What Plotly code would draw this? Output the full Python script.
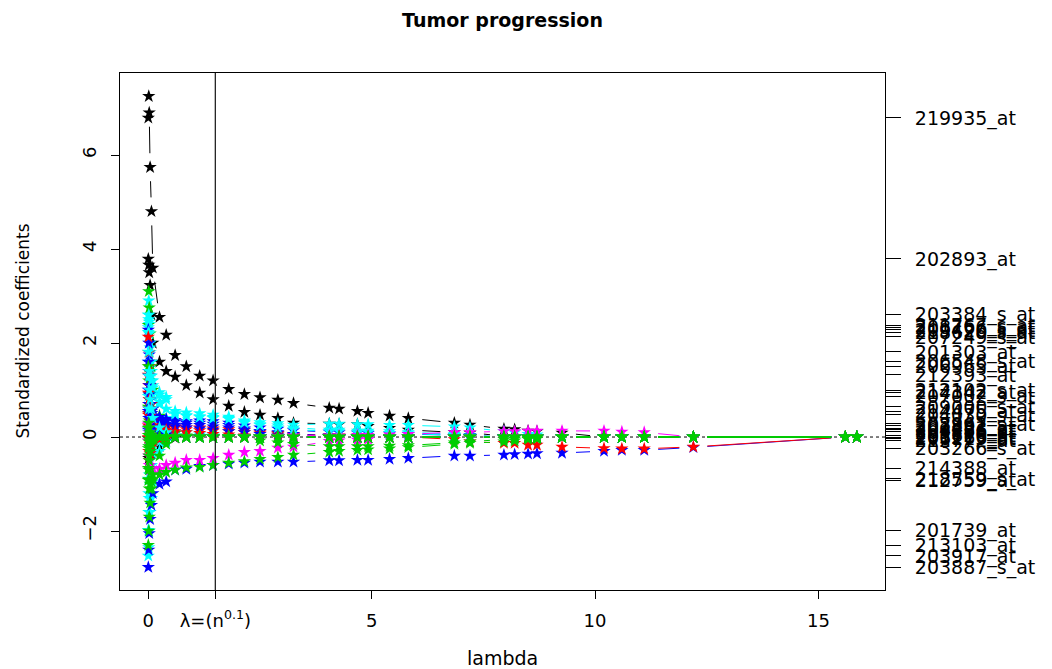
import math
import plotly.graph_objects as go

# ---------------- data ----------------
LAMBDA = [0.0, 0.01, 0.02, 0.04, 0.07, 0.1,
          0.25, 0.4, 0.6, 0.85, 1.15, 1.45,
          1.8, 2.15, 2.5, 2.9, 3.25, 4.05,
          4.27, 4.68, 4.92, 5.4, 5.82, 6.85,
          7.2, 7.96, 8.2, 8.5, 8.7, 9.26,
          10.2, 10.6, 11.1, 12.2, 15.6, 15.86]

X_TICKS = [0, 1.5, 5, 10, 15]
X_TICK_TEXT = ["0", "λ=(n<sup>0.1</sup>)", "5", "10", "15"]
Y_TICKS = [-2, 0, 2, 4, 6]
LAMBDA_MARK = 1.5

s_219935_at = [6.79, 7.25, 6.90, 5.74, 4.80, 3.60,
               2.55, 2.17, 1.74, 1.50, 1.30, 1.20,
               1.02, 0.91, 0.84, 0.79, 0.72, 0.62,
               0.60, 0.55, 0.51, 0.45, 0.40, 0.30,
               0.26, 0.17, 0.16, 0.13, 0.12, 0.09,
               0.00, 0.00, 0.00, 0.00, 0.00, 0.00]
s_202893_at = [3.79, 3.66, 3.50, 3.23, 2.60, 2.00,
               1.60, 1.40, 1.28, 1.10, 0.94, 0.80,
               0.66, 0.53, 0.47, 0.40, 0.30, 0.28,
               0.27, 0.27, 0.23, 0.19, 0.15, 0.10,
               0.09, 0.02, 0.00, 0.00, 0.00, 0.00,
               0.00, 0.00, 0.00, 0.00, 0.00, 0.00]
s_203384_s_at = [2.60, 2.90, 2.40, 1.90, 1.40, 1.10,
                 0.95, 0.85, 0.55, 0.52, 0.50, 0.47,
                 0.43, 0.35, 0.31, 0.29, 0.26, 0.28,
                 0.28, 0.27, 0.27, 0.25, 0.25, 0.22,
                 0.20, 0.12, 0.10, 0.06, 0.05, 0.02,
                 0.00, 0.00, 0.00, 0.00, 0.00, 0.00]
s_211767_s_at = [2.38, 3.10, 2.75, 2.20, 1.50, 1.00,
                 0.45, 0.20, 0.08, 0.03, 0.00, 0.00,
                 0.00, 0.00, 0.00, 0.00, 0.00, 0.00,
                 0.00, 0.00, 0.00, 0.00, 0.00, 0.00,
                 0.00, 0.00, 0.00, 0.00, 0.00, 0.00,
                 0.00, 0.00, 0.00, 0.00, 0.00, 0.00]
s_208766_s_at = [2.33, 2.60, 2.45, 2.00, 1.60, 1.20,
                 0.70, 0.40, 0.20, 0.10, 0.05, 0.03,
                 0.02, 0.00, 0.00, 0.00, 0.00, 0.00,
                 0.00, 0.00, 0.00, 0.00, 0.00, 0.00,
                 0.00, 0.00, 0.00, 0.00, 0.00, 0.00,
                 0.00, 0.00, 0.00, 0.00, 0.00, 0.00]
s_209426_s_at = [2.28, 2.00, 1.75, 1.30, 0.90, 0.60,
                 0.42, 0.38, 0.36, 0.33, 0.30, 0.28,
                 0.25, 0.18, 0.12, 0.07, 0.03, 0.00,
                 0.00, 0.00, 0.00, 0.00, 0.00, 0.00,
                 0.00, 0.00, 0.00, 0.00, 0.00, 0.00,
                 0.00, 0.00, 0.00, 0.00, 0.00, 0.00]
s_218620_s_at = [2.23, 2.50, 2.20, 1.80, 1.30, 0.90,
                 0.75, 0.60, 0.48, 0.46, 0.44, 0.42,
                 0.40, 0.32, 0.27, 0.24, 0.20, 0.15,
                 0.15, 0.13, 0.13, 0.12, 0.10, 0.06,
                 0.04, 0.00, 0.00, 0.00, 0.00, 0.00,
                 0.00, 0.00, 0.00, 0.00, 0.00, 0.00]
s_207249_s_at = [2.13, 1.80, 1.50, 1.10, 0.70, 0.40,
                 0.30, 0.25, 0.22, 0.20, 0.20, 0.18,
                 0.16, 0.14, 0.10, 0.08, 0.06, 0.04,
                 0.03, 0.02, 0.01, 0.00, 0.00, 0.00,
                 0.00, 0.00, 0.00, 0.00, 0.00, 0.00,
                 0.00, 0.00, 0.00, 0.00, 0.00, 0.00]
s_201303_at = [1.81, 1.60, 1.30, 0.90, 0.50, 0.30,
               0.15, 0.08, 0.04, 0.00, 0.00, 0.00,
               0.00, 0.00, 0.00, 0.00, 0.00, 0.00,
               0.00, 0.00, 0.00, 0.00, 0.00, 0.00,
               0.00, 0.00, 0.00, 0.00, 0.00, 0.00,
               0.00, 0.00, 0.00, 0.00, 0.00, 0.00]
s_206548_s_at = [1.60, 1.40, 1.10, 0.80, 0.50, 0.45,
                 0.38, 0.35, 0.32, 0.30, 0.35, 0.33,
                 0.30, 0.24, 0.20, 0.17, 0.14, 0.11,
                 0.10, 0.09, 0.08, 0.07, 0.06, 0.04,
                 0.03, 0.00, 0.00, 0.00, 0.00, 0.00,
                 0.00, 0.00, 0.00, 0.00, 0.00, 0.00]
s_206965_at = [1.50, 1.20, 0.90, 0.50, 0.20, 0.05,
               0.00, 0.00, 0.00, 0.00, 0.00, 0.00,
               0.00, 0.00, 0.00, 0.00, 0.00, 0.00,
               0.00, 0.00, 0.00, 0.00, 0.00, 0.00,
               0.00, 0.00, 0.00, 0.00, 0.00, 0.00,
               0.00, 0.00, 0.00, 0.00, 0.00, 0.00]
s_212393_at = [1.32, 1.10, 0.80, 0.50, 0.30, 0.15,
               0.05, 0.00, 0.00, 0.00, 0.00, 0.00,
               0.00, 0.00, 0.00, 0.00, 0.00, 0.00,
               0.00, 0.00, 0.00, 0.00, 0.00, 0.00,
               0.00, 0.00, 0.00, 0.00, 0.00, 0.00,
               0.00, 0.00, 0.00, 0.00, 0.00, 0.00]
s_212102_s_at = [1.00, 1.30, 1.10, 0.80, 0.55, 0.45,
                 0.30, 0.28, 0.26, 0.25, 0.25, 0.22,
                 0.20, 0.15, 0.12, 0.10, 0.06, 0.03,
                 0.02, 0.00, 0.00, 0.00, 0.00, 0.00,
                 0.00, 0.00, 0.00, 0.00, 0.00, 0.00,
                 0.00, 0.00, 0.00, 0.00, 0.00, 0.00]
s_214342_at = [0.94, 0.70, 0.55, 0.45, 0.35, 0.30,
               0.25, 0.22, 0.20, 0.16, 0.14, 0.13,
               0.12, 0.10, 0.07, 0.05, 0.03, 0.01,
               0.00, 0.00, 0.00, 0.00, 0.00, 0.00,
               0.00, 0.00, 0.00, 0.00, 0.00, 0.00,
               0.00, 0.00, 0.00, 0.00, 0.00, 0.00]
s_207002_s_at = [0.87, 1.30, 1.40, 1.30, 1.20, 1.05,
                 0.90, 0.80, 0.50, 0.45, 0.42, 0.40,
                 0.38, 0.30, 0.25, 0.20, 0.16, 0.12,
                 0.12, 0.10, 0.10, 0.08, 0.07, 0.04,
                 0.02, 0.00, 0.00, 0.00, 0.00, 0.00,
                 0.00, 0.00, 0.00, 0.00, 0.00, 0.00]
s_209000_s_at = [0.64, 0.50, 0.35, 0.20, 0.10, 0.05,
                 0.02, 0.00, 0.00, 0.00, 0.00, 0.00,
                 0.00, 0.00, 0.00, 0.00, 0.00, 0.00,
                 0.00, 0.00, 0.00, 0.00, 0.00, 0.00,
                 0.00, 0.00, 0.00, 0.00, 0.00, 0.00,
                 0.00, 0.00, 0.00, 0.00, 0.00, 0.00]
s_214475_at = [0.55, 0.70, 0.90, 0.70, 0.50, 0.38,
               0.30, 0.26, 0.22, 0.20, 0.18, 0.15,
               0.12, 0.10, 0.06, 0.03, 0.00, 0.00,
               0.00, 0.00, 0.00, 0.00, 0.00, 0.00,
               0.00, 0.00, 0.00, 0.00, 0.00, 0.00,
               0.00, 0.00, 0.00, 0.00, 0.00, 0.00]
s_204030_s_at = [0.47, 0.60, 0.50, 0.40, 0.35, 0.25,
                 0.18, 0.15, 0.12, 0.10, 0.08, 0.06,
                 0.05, 0.03, 0.00, 0.00, 0.00, 0.00,
                 0.00, 0.00, 0.00, 0.00, 0.00, 0.00,
                 0.00, 0.00, 0.00, 0.00, 0.00, 0.00,
                 0.00, 0.00, 0.00, 0.00, 0.00, 0.00]
s_208962_s_at = [0.28, 0.20, 0.10, 0.05, 0.02, 0.00,
                 0.00, 0.00, 0.00, 0.00, 0.00, 0.00,
                 0.00, 0.00, 0.00, 0.02, 0.03, 0.03,
                 0.03, 0.04, 0.04, 0.05, 0.06, 0.10,
                 0.10, 0.12, 0.12, 0.13, 0.13, 0.13,
                 0.13, 0.11, 0.10, 0.00, 0.00, 0.00]
s_202891_at = [0.24, 0.50, 0.80, 0.60, 0.40, 0.20,
               0.10, 0.05, 0.00, 0.00, 0.00, 0.00,
               0.00, 0.00, 0.00, 0.00, 0.00, 0.00,
               0.00, 0.00, 0.00, 0.00, 0.00, 0.00,
               0.00, 0.00, 0.00, 0.00, 0.00, 0.00,
               0.00, 0.00, 0.00, 0.00, 0.00, 0.00]
s_201453_at = [0.19, 0.30, 0.20, 0.10, 0.05, 0.00,
               0.00, 0.00, 0.00, 0.00, 0.00, 0.00,
               0.00, 0.00, 0.00, 0.00, 0.00, 0.00,
               0.00, 0.00, 0.00, 0.00, 0.00, 0.00,
               0.00, 0.00, 0.00, 0.00, 0.00, 0.00,
               0.00, 0.00, 0.00, 0.00, 0.00, 0.00]
s_204586_at = [0.15, 0.40, 0.60, 0.50, 0.35, 0.20,
               0.10, 0.05, 0.00, 0.00, 0.00, 0.00,
               0.00, 0.00, 0.00, 0.00, 0.00, 0.00,
               0.00, 0.00, 0.00, 0.00, 0.00, 0.00,
               0.00, 0.00, 0.00, 0.00, 0.00, 0.00,
               0.00, 0.00, 0.00, 0.00, 0.00, 0.00]
s_209296_at = [0.11, 0.60, 1.00, 0.80, 0.60, 0.40,
               0.20, 0.10, 0.00, 0.00, 0.00, 0.00,
               0.00, 0.00, 0.00, 0.00, 0.00, 0.00,
               0.00, 0.00, 0.00, 0.00, 0.00, 0.00,
               0.00, 0.00, 0.00, 0.00, 0.00, 0.00,
               0.00, 0.00, 0.00, 0.00, 0.00, 0.00]
s_201626_at = [0.04, -0.20, -0.40, -0.30, -0.15, -0.05,
               0.00, 0.00, 0.00, 0.00, 0.00, 0.00,
               0.00, 0.00, 0.00, 0.00, 0.00, 0.00,
               0.00, 0.00, 0.00, 0.00, 0.00, 0.00,
               0.00, 0.00, 0.00, 0.00, 0.00, 0.00,
               0.00, 0.00, 0.00, 0.00, 0.00, 0.00]
s_205266_at = [-0.01, -0.30, -0.50, -0.35, -0.20, -0.10,
               -0.05, -0.03, 0.00, 0.00, 0.00, 0.00,
               0.00, 0.00, 0.00, 0.00, 0.00, 0.00,
               0.00, 0.00, 0.00, 0.00, 0.00, -0.05,
               -0.10, -0.13, -0.13, -0.17, -0.17, -0.21,
               -0.24, -0.25, -0.25, -0.21, 0.00, 0.00]
s_206115_at = [-0.03, -0.45, -0.40, -0.30, -0.35, -0.30,
               -0.20, -0.08, -0.02, 0.00, 0.00, 0.00,
               0.00, 0.00, 0.00, 0.00, 0.00, 0.00,
               0.00, 0.00, 0.00, 0.00, 0.00, 0.00,
               0.00, 0.00, 0.00, 0.00, 0.00, 0.00,
               0.00, 0.00, 0.00, 0.00, 0.00, 0.00]
s_212772_at = [-0.08, -0.40, -0.60, -0.70, -0.68, -0.66,
               -0.68, -0.60, -0.55, -0.49, -0.49, -0.45,
               -0.38, -0.32, -0.30, -0.23, -0.21, -0.09,
               -0.08, -0.06, -0.05, 0.00, 0.00, 0.00,
               0.00, 0.00, 0.00, 0.00, 0.00, 0.00,
               0.00, 0.00, 0.00, 0.00, 0.00, 0.00]
s_203266_s_at = [-0.24, -0.10, -0.05, 0.00, 0.00, 0.00,
                 0.00, 0.00, 0.00, 0.00, 0.00, 0.00,
                 0.00, 0.00, -0.08, -0.12, -0.15, -0.20,
                 -0.20, -0.20, -0.20, -0.19, -0.18, -0.12,
                 -0.10, -0.05, -0.04, -0.02, -0.01, 0.00,
                 0.00, 0.00, 0.00, 0.00, 0.00, 0.00]
s_214388_at = [-0.66, -0.90, -1.10, -1.00, -0.95, -0.90,
               -0.80, -0.75, -0.70, -0.65, -0.64, -0.60,
               -0.55, -0.52, -0.47, -0.43, -0.38, -0.32,
               -0.30, -0.28, -0.27, -0.25, -0.22, -0.15,
               -0.13, -0.10, -0.08, -0.05, -0.04, 0.00,
               0.00, 0.00, 0.00, 0.00, 0.00, 0.00]
s_218559_s_at = [-0.89, -1.20, -0.80, -0.50, -0.30, -0.15,
                 -0.05, 0.00, 0.00, 0.00, 0.00, 0.00,
                 0.00, 0.00, 0.00, 0.00, 0.00, 0.00,
                 0.00, 0.00, 0.00, 0.00, 0.00, 0.00,
                 0.00, 0.00, 0.00, 0.00, 0.00, 0.00,
                 0.00, 0.00, 0.00, 0.00, 0.00, 0.00]
s_212759_at = [-0.92, -0.70, -0.50, -0.30, -0.15, -0.05,
               0.00, 0.00, 0.00, 0.00, 0.00, 0.00,
               0.00, 0.00, 0.00, 0.00, 0.00, 0.00,
               0.00, 0.00, 0.00, 0.00, 0.00, 0.00,
               0.00, 0.00, 0.00, 0.00, 0.00, 0.00,
               0.00, 0.00, 0.00, 0.00, 0.00, 0.00]
s_201739_at = [-1.98, -1.60, -1.30, -0.90, -0.60, -0.35,
               -0.10, 0.00, 0.00, 0.00, 0.00, 0.00,
               0.00, 0.00, 0.00, 0.00, 0.00, 0.00,
               0.00, 0.00, 0.00, 0.00, 0.00, 0.00,
               0.00, 0.00, 0.00, 0.00, 0.00, 0.00,
               0.00, 0.00, 0.00, 0.00, 0.00, 0.00]
s_213103_at = [-2.30, -2.00, -1.70, -1.40, -1.10, -0.80,
               -0.40, -0.15, 0.00, 0.00, 0.00, 0.00,
               0.00, 0.00, 0.00, 0.00, 0.00, 0.00,
               0.00, 0.00, 0.00, 0.00, 0.00, 0.00,
               0.00, 0.00, 0.00, 0.00, 0.00, 0.00,
               0.00, 0.00, 0.00, 0.00, 0.00, 0.00]
s_203917_at = [-2.53, -2.35, -2.00, -1.60, -1.30, -0.95,
               -0.30, -0.10, 0.00, 0.00, 0.00, 0.00,
               0.00, 0.00, 0.00, 0.00, 0.00, 0.00,
               0.00, 0.00, 0.00, 0.00, 0.00, 0.00,
               0.00, 0.00, 0.00, 0.00, 0.00, 0.00,
               0.00, 0.00, 0.00, 0.00, 0.00, 0.00]
s_203887_s_at = [-2.77, -2.40, -2.05, -1.75, -1.45, -1.20,
                 -1.00, -0.95, -0.70, -0.68, -0.62, -0.60,
                 -0.57, -0.55, -0.53, -0.53, -0.53, -0.50,
                 -0.50, -0.49, -0.49, -0.47, -0.45, -0.40,
                 -0.40, -0.38, -0.37, -0.36, -0.35, -0.34,
                 -0.30, -0.28, -0.28, -0.22, 0.00, 0.00]

BLACK, RED, GREEN, BLUE, CYAN, MAGENTA = "#000000", "#FF0000", "#00CD00", "#0000FF", "#00FFFF", "#FF00FF"

# drawing order (name, colour, values)
SERIES = [
    ("219935_at", BLACK, s_219935_at),
    ("202893_at", BLACK, s_202893_at),
    ("203384_s_at", CYAN, s_203384_s_at),
    ("211767_s_at", GREEN, s_211767_s_at),
    ("208766_s_at", CYAN, s_208766_s_at),
    ("209426_s_at", BLUE, s_209426_s_at),
    ("218620_s_at", CYAN, s_218620_s_at),
    ("207249_s_at", RED, s_207249_s_at),
    ("201303_at", CYAN, s_201303_at),
    ("206548_s_at", BLUE, s_206548_s_at),
    ("206965_at", GREEN, s_206965_at),
    ("212393_at", RED, s_212393_at),
    ("212102_s_at", BLUE, s_212102_s_at),
    ("214342_at", RED, s_214342_at),
    ("207002_s_at", CYAN, s_207002_s_at),
    ("209000_s_at", GREEN, s_209000_s_at),
    ("214475_at", BLUE, s_214475_at),
    ("204030_s_at", RED, s_204030_s_at),
    ("202891_at", RED, s_202891_at),
    ("204586_at", BLUE, s_204586_at),
    ("209296_at", CYAN, s_209296_at),
    ("206115_at", BLACK, s_206115_at),
    ("218559_s_at", CYAN, s_218559_s_at),
    ("201739_at", CYAN, s_201739_at),
    ("203917_at", CYAN, s_203917_at),
    ("203887_s_at", BLUE, s_203887_s_at),
    ("205266_at", RED, s_205266_at),
    ("208962_s_at", MAGENTA, s_208962_s_at),
    ("212772_at", MAGENTA, s_212772_at),
    ("201626_at", GREEN, s_201626_at),
    ("212759_at", GREEN, s_212759_at),
    ("213103_at", GREEN, s_213103_at),
    ("201453_at", GREEN, s_201453_at),
    ("203266_s_at", GREEN, s_203266_s_at),
    ("214388_at", GREEN, s_214388_at),
]

# ---------------- layout geometry ----------------
W, H = 1052, 669
ML, MR, MT, MB = 120, 167, 73, 79
PW, PH = W - ML - MR, H - MT - MB
X_RANGE = [-0.634, 16.49]
Y_RANGE = [-3.255, 7.745]
PX_X = PW / (X_RANGE[1] - X_RANGE[0])
PX_Y = PH / (Y_RANGE[1] - Y_RANGE[0])
GAP = 14.0  # R type="b": lines stop short of the points


def gapped(xs, ys):
    gx, gy = [], []
    for i in range(len(xs) - 1):
        dx, dy = xs[i + 1] - xs[i], ys[i + 1] - ys[i]
        d = math.hypot(dx * PX_X, dy * PX_Y)
        if d <= 2 * GAP + 1:
            continue
        t = GAP / d
        gx += [xs[i] + t * dx, xs[i + 1] - t * dx, None]
        gy += [ys[i] + t * dy, ys[i + 1] - t * dy, None]
    return gx, gy


FONT = "DejaVu Sans, Liberation Sans, Arial, sans-serif"

fig = go.Figure()
for name, col, vals in SERIES:
    lx, ly = gapped(LAMBDA, vals)
    fig.add_trace(go.Scatter(x=lx, y=ly, mode="lines", line=dict(color=col, width=1),
                             hoverinfo="skip", showlegend=False))
    fig.add_trace(go.Scatter(x=LAMBDA, y=vals, mode="markers", name=name,
                             marker=dict(symbol="star", size=10, color=col, line=dict(width=0)),
                             showlegend=False))

# right-axis labels at the final (smallest lambda) coefficient values
right_vals = [vals[0] for _, _, vals in SERIES]
right_text = [name for name, _, _ in SERIES]
fig.add_trace(go.Scatter(x=[None], y=[None], yaxis="y2", showlegend=False, hoverinfo="skip"))

fig.add_shape(type="line", xref="paper", yref="y", x0=0, x1=1, y0=0, y1=0,
              line=dict(color="black", width=1, dash="dot"), layer="below")
fig.add_shape(type="line", xref="x", yref="paper", x0=LAMBDA_MARK, x1=LAMBDA_MARK, y0=0, y1=1,
              line=dict(color="#222222", width=1.3))

fig.update_layout(
    width=W, height=H,
    margin=dict(l=ML, r=MR, t=MT, b=MB),
    paper_bgcolor="white", plot_bgcolor="white",
    font=dict(family=FONT, size=17, color="black"),
    title=dict(text="<b>Tumor progression</b>", x=(ML + PW / 2) / W, xanchor="center",
               y=1 - 20 / H, yanchor="middle", font=dict(family=FONT, size=19, color="black")),
    xaxis=dict(range=X_RANGE, tickvals=X_TICKS, ticktext=X_TICK_TEXT, ticks="outside", ticklen=8,
               tickcolor="black", showgrid=False, zeroline=False, showline=True, mirror=True,
               linecolor="black", linewidth=1, tickfont=dict(size=18), ticklabelstandoff=6),
    yaxis=dict(range=Y_RANGE, tickvals=Y_TICKS, ticks="outside", ticklen=8, tickcolor="black",
               showgrid=False, zeroline=False, showline=True, mirror=True, linecolor="black",
               linewidth=1, tickangle=-90, tickfont=dict(size=18), ticklabelstandoff=8),
    yaxis2=dict(range=Y_RANGE, overlaying="y", side="right", tickvals=right_vals, ticktext=right_text,
                ticks="outside", ticklen=15, tickcolor="black", showgrid=False, zeroline=False,
                showline=False, tickfont=dict(size=19), ticklabelstandoff=10),
    annotations=[
        dict(text="lambda", xref="paper", yref="paper", x=0.5, y=-(658 - (H - MB)) / PH,
             xanchor="center", yanchor="middle", showarrow=False, font=dict(size=19)),
        dict(text="Standardized coefficients", xref="paper", yref="paper", x=(22 - ML) / PW,
             y=0.5, xanchor="center", yanchor="middle", textangle=-90, showarrow=False,
             font=dict(size=17)),
    ],
)

fig.write_html("out.html")
